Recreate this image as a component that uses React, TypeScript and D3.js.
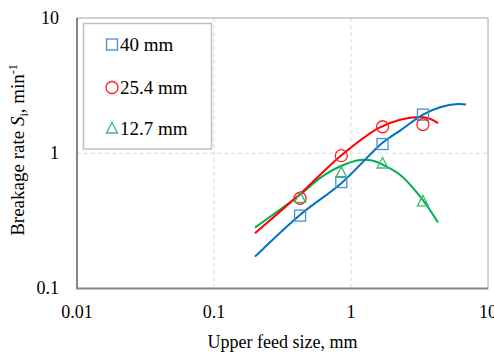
import React, { useRef, useEffect } from 'react';
import * as d3 from 'd3';

// measured sieve sizes (mm) and breakage rates
const feedSizes = [0.425, 0.85, 1.7, 3.35];
const rate40 = [0.346, 0.612, 1.17, 1.93];
const rate254 = [0.465, 0.96, 1.57, 1.63];
const rate127 = [0.468, 0.716, 0.84, 0.44];

// fitted curves
const fit40X = [0.199, 0.424, 0.85, 1.69, 2.28, 3.35, 4.47, 6.04, 6.91];
const fit40Y = [0.172, 0.35, 0.601, 1.19, 1.47, 1.93, 2.19, 2.31, 2.29];
const fit254X = [0.199, 0.424, 0.831, 1.6, 2.28, 3.19, 3.77, 4.32];
const fit254Y = [0.256, 0.499, 0.947, 1.54, 1.77, 1.85, 1.8, 1.67];
const fit127X = [0.199, 0.424, 0.594, 0.831, 1.16, 1.45, 1.71, 2.28, 3.19, 4.32];
const fit127Y = [0.282, 0.493, 0.655, 0.798, 0.891, 0.88, 0.822, 0.693, 0.479, 0.308];

const xTicks = [0.01, 0.1, 1, 10];
const yTicks = [0.1, 1, 10];
const legendLabels = ['40 mm', '25.4 mm', '12.7 mm'];

function App() {
    const ref = useRef<SVGSVGElement | null>(null);

    useEffect(() => {
        const width = 494;
        const height = 354;
        const margin = { top: 18, right: 6, bottom: 65.5, left: 77 };

        const svg = d3.select(ref.current);
        svg.selectAll('*').remove();

        const x = d3.scaleLog().domain([0.01, 10]).range([margin.left, width - margin.right]);
        const y = d3.scaleLog().domain([0.1, 10]).range([height - margin.bottom, margin.top]);

        const font = '"Liberation Serif", "Times New Roman", serif';

        // grid
        svg.append('g')
            .selectAll('line')
            .data(xTicks.slice(1, -1))
            .enter()
            .append('line')
            .attr('x1', (d) => x(d))
            .attr('x2', (d) => x(d))
            .attr('y1', y(10))
            .attr('y2', y(0.1))
            .attr('stroke', '#d9d9d9')
            .attr('stroke-width', 1)
            .attr('stroke-dasharray', '4 3');

        svg.append('g')
            .selectAll('line')
            .data(yTicks.slice(1, -1))
            .enter()
            .append('line')
            .attr('x1', x(0.01))
            .attr('x2', x(10))
            .attr('y1', (d) => y(d))
            .attr('y2', (d) => y(d))
            .attr('stroke', '#d9d9d9')
            .attr('stroke-width', 1)
            .attr('stroke-dasharray', '4 3');

        // frame
        svg.append('rect')
            .attr('x', x(0.01))
            .attr('y', y(10))
            .attr('width', x(10) - x(0.01))
            .attr('height', y(0.1) - y(10))
            .attr('fill', 'none')
            .attr('stroke', '#a6a6a6')
            .attr('stroke-width', 1);
        svg.append('path')
            .attr('d', `M${x(0.01)},${y(10)}V${y(0.1)}H${x(10)}`)
            .attr('fill', 'none')
            .attr('stroke', '#868686')
            .attr('stroke-width', 2);

        // tick labels
        svg.selectAll('text.xt')
            .data(xTicks)
            .enter()
            .append('text')
            .attr('class', 'xt')
            .attr('x', (d) => x(d))
            .attr('y', 318)
            .attr('text-anchor', 'middle')
            .attr('font-family', font)
            .attr('font-size', 18)
            .text((d) => String(d));

        svg.selectAll('text.yt')
            .data(yTicks)
            .enter()
            .append('text')
            .attr('class', 'yt')
            .attr('x', 59)
            .attr('y', (d) => y(d))
            .attr('dy', '0.33em')
            .attr('text-anchor', 'end')
            .attr('font-family', font)
            .attr('font-size', 18)
            .text((d) => String(d));

        // axis titles
        svg.append('text')
            .attr('x', (x(0.01) + x(10)) / 2)
            .attr('y', 348)
            .attr('text-anchor', 'middle')
            .attr('font-family', font)
            .attr('font-size', 18)
            .text('Upper feed size, mm');

        const yt = svg.append('text')
            .attr('transform', `translate(24, 150) rotate(-90)`)
            .attr('text-anchor', 'middle')
            .attr('font-family', font)
            .attr('font-size', 19);
        yt.append('tspan').text('Breakage rate ');
        yt.append('tspan').attr('font-style', 'italic').text('S');
        yt.append('tspan').attr('font-size', 12).attr('dy', 4).text('i');
        yt.append('tspan').attr('dy', -4).text(', min');
        yt.append('tspan').attr('font-size', 12).attr('dy', -7).text('-1');

        // fitted lines
        const line = d3.line<[number, number]>()
            .x((d) => x(d[0]))
            .y((d) => y(d[1]))
            .curve(d3.curveCatmullRom.alpha(0.5));

        const fits: [number[], number[], string][] = [
            [fit127X, fit127Y, '#00b050'],
            [fit254X, fit254Y, '#ff0000'],
            [fit40X, fit40Y, '#0070c0'],
        ];
        fits.forEach(([xs, ys, c]) => {
            svg.append('path')
                .datum(xs.map((v, i) => [v, ys[i]] as [number, number]))
                .attr('d', line)
                .attr('fill', 'none')
                .attr('stroke', c)
                .attr('stroke-width', 2);
        });

        // markers
        const sq = '#4a8fd1';
        const ci = '#ff2020';
        const tr = '#3cb870';

        const drawSquare = (g: any, cx: number, cy: number) =>
            g.append('rect')
                .attr('x', cx - 5.5).attr('y', cy - 5.5)
                .attr('width', 11).attr('height', 11)
                .attr('fill', 'none').attr('stroke', sq).attr('stroke-width', 1.3);
        const drawCircle = (g: any, cx: number, cy: number) =>
            g.append('circle')
                .attr('cx', cx).attr('cy', cy).attr('r', 6)
                .attr('fill', 'none').attr('stroke', ci).attr('stroke-width', 1.3);
        const drawTriangle = (g: any, cx: number, cy: number) =>
            g.append('path')
                .attr('d', `M${cx},${cy - 6}L${cx + 5.5},${cy + 4.5}L${cx - 5.5},${cy + 4.5}Z`)
                .attr('fill', 'none').attr('stroke', tr).attr('stroke-width', 1.3);

        feedSizes.forEach((f, i) => {
            drawSquare(svg, x(f), y(rate40[i]));
            drawCircle(svg, x(f), y(rate254[i]));
            drawTriangle(svg, x(f), y(rate127[i]));
        });

        // legend
        const lg = svg.append('g');
        lg.append('rect')
            .attr('x', 83.5).attr('y', 23.5)
            .attr('width', 128).attr('height', 125.5)
            .attr('fill', 'white').attr('stroke', '#bfbfbf').attr('stroke-width', 1.5);
        const rowsY = [44.5, 87.5, 128.5];
        const drawers = [drawSquare, drawCircle, drawTriangle];
        legendLabels.forEach((l, i) => {
            drawers[i](lg, 112, rowsY[i]);
            lg.append('text')
                .attr('x', 120)
                .attr('y', rowsY[i])
                .attr('dy', '0.35em')
                .attr('font-family', font)
                .attr('font-size', 19)
                .text(l);
        });
    }, []);

    return (
        <svg ref={ref} width={494} height={354}
            style={{ position: 'absolute', left: 0, top: 0, background: 'white' }} />
    );
}

export default App;
